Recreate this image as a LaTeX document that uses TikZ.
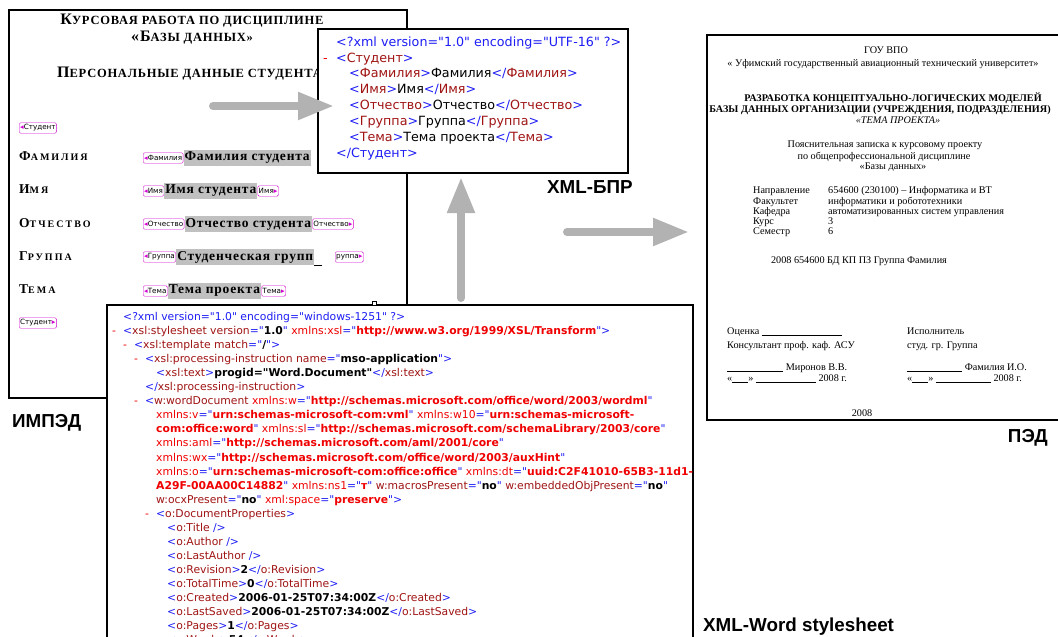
\documentclass[tikz,border=0pt]{standalone}
\usepackage{fontspec}
\setmainfont{Liberation Serif}
\newfontfamily\xmlfont{DejaVu Sans}
\newfontfamily\lblfont{Liberation Sans}
\usetikzlibrary{arrows.meta}
\definecolor{xblue}{RGB}{30,30,245}
\definecolor{xname}{RGB}{160,20,20}
\definecolor{xns}{RGB}{240,0,0}
\definecolor{fldgray}{RGB}{192,192,192}
\definecolor{tagc}{RGB}{210,0,210}
\definecolor{arrgray}{RGB}{178,178,178}
\newcommand\xb[1]{\textcolor{xblue}{#1}}
\newcommand\xn[1]{\textcolor{xname}{#1}}
\newcommand\xr[1]{\textcolor{xns}{#1}}
\newcommand\xrv[1]{\textcolor{xns}{\bfseries #1}}
\newcommand\xt[1]{\xb{<}\xn{#1}\xb{>}}
\newcommand\xc[1]{\xb{</}\xn{#1}\xb{>}}
\newcommand\xe[1]{\xb{<}\xn{#1}\ \xb{/>}}
\newcommand\tri[1]{\textcolor{tagc}{#1}}
\newcommand\capsc[2]{{\fontsize{16}{16}\selectfont #1}{\fontsize{12.5}{12.5}\selectfont #2}}
\newcommand\capsb[2]{{\fontsize{13.5}{14}\selectfont #1}{\fontsize{10}{11}\selectfont #2}}
\newcommand\ulin[1]{\rule[-1pt]{#1}{0.5pt}}
\begin{document}
\begin{tikzpicture}[x=1pt,y=-1pt,
  hd/.style={inner sep=0, font=\bfseries\addfontfeature{LetterSpace=6}},
  lab/.style={anchor=west, inner sep=0, font=\bfseries\addfontfeature{LetterSpace=20}},
  tag/.style={draw=tagc, rounded corners=1.5pt, inner xsep=1pt, inner ysep=0pt, minimum height=10.5pt, anchor=west, font=\xmlfont\fontsize{7.2}{8}\selectfont},
  fld/.style={fill=fldgray, inner xsep=1pt, inner ysep=2pt, anchor=west, font=\bfseries\fontsize{13.5}{14}\selectfont\addfontfeature{LetterSpace=6}},
  xm/.style={anchor=west, inner sep=0, text height=0.75em, text depth=0.2em, font=\xmlfont\fontsize{12.7}{13}\selectfont},
  xs/.style={anchor=west, inner sep=0, text height=0.75em, text depth=0.2em, font=\xmlfont\fontsize{10.8}{11}\selectfont},
  ped/.style={inner sep=0, text height=0.7em, text depth=0.2em, font=\fontsize{10.2}{11}\selectfont},
  pedb/.style={ped, font=\bfseries\fontsize{10.2}{11}\selectfont},
  lbl/.style={inner sep=0, font=\lblfont\bfseries\fontsize{18.8}{19}\selectfont},
  win/.style={draw, fill=white, line width=1.6pt},
  bigarr/.style={draw=arrgray, line width=8pt, line cap=round, -{Triangle[length=36pt,width=26pt]}}]
\clip (0,0) rectangle (1058,637);
\fill[white] (0,0) rectangle (1058,637);

\draw[win, line width=2pt] (9,10) rectangle (407,398);
\node[hd] (ttl1) at (192,21) {\capsc{К}{УРСОВАЯ РАБОТА ПО ДИСЦИПЛИНЕ}};
\node[hd] (ttl2) at (192,38) {\capsc{«Б}{АЗЫ ДАННЫХ»}};
\node[hd, anchor=west] (ttl3) at (57,74) {\capsc{П}{ЕРСОНАЛЬНЫЕ ДАННЫЕ СТУДЕНТА}};
\node[tag] (tg0) at (19,128) {\tri{◂}Студент};
\node[lab] (lab1) at (19,156) {\capsb{Ф}{АМИЛИЯ}};
\node[lab] (lab2) at (19,189) {\capsb{И}{МЯ}};
\node[lab] (lab3) at (19,223) {\capsb{О}{ТЧЕСТВО}};
\node[lab] (lab4) at (19,256) {\capsb{Г}{РУППА}};
\node[lab] (lab5) at (19,289) {\capsb{Т}{ЕМА}};
\node[tag] (tg1) at (143,158) {\tri{◂}Фамилия};
\node[fld] (fl1) at (tg1.east) {Фамилия студента};
\node[tag] (tg2) at (143,191) {\tri{◂}Имя};
\node[fld] (fl2) at (tg2.east) {Имя студента};
\node[tag] (te2) at (fl2.east) {Имя\tri{▸}};
\node[tag] (tg3) at (143,224) {\tri{◂}Отчество};
\node[fld] (fl3) at (tg3.east) {Отчество студента};
\node[tag] (te3) at (fl3.east) {Отчество\tri{▸}};
\node[tag] (tg4) at (143,257) {\tri{◂}Группа};
\node[fld] (fl4) at (tg4.east) {Студенческая групп};
\draw (fl4.south east) -- ++(8,0);
\node[tag] (te4) at (335,257) {руппа\tri{▸}};
\node[tag] (tg5) at (143,291) {\tri{◂}Тема};
\node[fld] (fl5) at (tg5.east) {Тема проекта};
\node[tag] (te5) at (fl5.east) {Тема\tri{▸}};
\node[tag] (te0) at (19,323) {Студент\tri{▸}};

\draw[win] (318,29) rectangle (628,173);
\node[xm] (b0) at (336,44) {\xb{<?xml version="1.0" encoding="UTF-16" ?>}};
\node[xm, text=xns] (bd) at (323,60) {-};
\node[xm] (b1) at (336,60) {\xt{Студент}};
\node[xm] (b2) at (349,75) {\xt{Фамилия}Фамилия\xc{Фамилия}};
\node[xm] (b3) at (349,91) {\xt{Имя}Имя\xc{Имя}};
\node[xm] (b4) at (349,107) {\xt{Отчество}Отчество\xc{Отчество}};
\node[xm] (b5) at (349,123) {\xt{Группа}Группа\xc{Группа}};
\node[xm] (b6) at (349,139) {\xt{Тема}Тема проекта\xc{Тема}};
\node[xm] (b7) at (336,155) {\xb{</Студент>}};

\draw[win] (107,305) rectangle (693,700);
\draw[fill=white, line width=0.5pt] (372,301) rectangle (376,305);
\node[xs] (s0) at (123,318) {\xb{<?xml version="1.0" encoding="windows-1251" ?>}};
\node[xs, text=xns] (d1) at (112,332) {-};
\node[xs] (s1) at (123,332) {\xb{<}\xn{xsl:stylesheet version}\xb{="}\textbf{1.0}\xb{"} \xr{xmlns:xsl}\xb{="}\xrv{http://www.w3.org/1999/XSL/Transform}\xb{">}};
\node[xs, text=xns] (d2) at (123,346) {-};
\node[xs] (s2) at (134,346) {\xb{<}\xn{xsl:template match}\xb{="}\textbf{/}\xb{">}};
\node[xs, text=xns] (d3) at (134,360) {-};
\node[xs] (s3) at (145,360) {\xb{<}\xn{xsl:processing-instruction name}\xb{="}\textbf{mso-application}\xb{">}};
\node[xs] (s4) at (156,374) {\xt{xsl:text}\textbf{progid="Word.Document"}\xc{xsl:text}};
\node[xs] (s5) at (145,388) {\xc{xsl:processing-instruction}};
\node[xs, text=xns] (d6) at (134,402) {-};
\node[xs] (s6) at (145,402) {\xb{<}\xn{w:wordDocument} \xr{xmlns:w}\xb{="}\xrv{http://schemas.microsoft.com/office/word/2003/wordml}\xb{"}};
\node[xs] (s7) at (156,416) {\xr{xmlns:v}\xb{="}\xrv{urn:schemas-microsoft-com:vml}\xb{"} \xr{xmlns:w10}\xb{="}\xrv{urn:schemas-microsoft-}};
\node[xs] (s8) at (156,430) {\xrv{com:office:word}\xb{"} \xr{xmlns:sl}\xb{="}\xrv{http://schemas.microsoft.com/schemaLibrary/2003/core}\xb{"}};
\node[xs] (s9) at (156,444) {\xr{xmlns:aml}\xb{="}\xrv{http://schemas.microsoft.com/aml/2001/core}\xb{"}};
\node[xs] (s10) at (156,459) {\xr{xmlns:wx}\xb{="}\xrv{http://schemas.microsoft.com/office/word/2003/auxHint}\xb{"}};
\node[xs] (s11) at (156,473) {\xr{xmlns:o}\xb{="}\xrv{urn:schemas-microsoft-com:office:office}\xb{"} \xr{xmlns:dt}\xb{="}\xrv{uuid:C2F41010-65B3-11d1-}};
\node[xs] (s12) at (156,487) {\xrv{A29F-00AA00C14882}\xb{"} \xr{xmlns:ns1}\xb{="}\xrv{т}\xb{"} \xn{w:macrosPresent}\xb{="}\textbf{no}\xb{"} \xn{w:embeddedObjPresent}\xb{="}\textbf{no}\xb{"}};
\node[xs] (s13) at (156,501) {\xn{w:ocxPresent}\xb{="}\textbf{no}\xb{"} \xr{xml:space}\xb{="}\xrv{preserve}\xb{">}};
\node[xs, text=xns] (d14) at (145,515) {-};
\node[xs] (s14) at (156,515) {\xt{o:DocumentProperties}};
\node[xs] (s15) at (167,529) {\xe{o:Title}};
\node[xs] (s16) at (167,543) {\xe{o:Author}};
\node[xs] (s17) at (167,557) {\xe{o:LastAuthor}};
\node[xs] (s18) at (167,571) {\xt{o:Revision}\textbf{2}\xc{o:Revision}};
\node[xs] (s19) at (167,585) {\xt{o:TotalTime}\textbf{0}\xc{o:TotalTime}};
\node[xs] (s20) at (167,599) {\xt{o:Created}\textbf{2006-01-25T07:34:00Z}\xc{o:Created}};
\node[xs] (s21) at (167,613) {\xt{o:LastSaved}\textbf{2006-01-25T07:34:00Z}\xc{o:LastSaved}};
\node[xs] (s22) at (167,627) {\xt{o:Pages}\textbf{1}\xc{o:Pages}};
\node[xs] (s23) at (167,641) {\xt{o:Words}\textbf{54}\xc{o:Words}};

\draw[win, line width=1.5pt] (707,35) rectangle (1080,420);
\node[ped] (p1) at (886,51) {ГОУ ВПО};
\node[ped] (p2) at (883,64) {« Уфимский государственный авиационный технический университет»};
\node[pedb] (p3) at (893,99) {РАЗРАБОТКА КОНЦЕПТУАЛЬНО-ЛОГИЧЕСКИХ МОДЕЛЕЙ};
\node[pedb] (p4) at (880,110) {БАЗЫ ДАННЫХ ОРГАНИЗАЦИИ (УЧРЕЖДЕНИЯ, ПОДРАЗДЕЛЕНИЯ)};
\node[ped, font=\itshape\fontsize{10.2}{11}\selectfont] (p5) at (898,121) {«ТЕМА ПРОЕКТА»};
\node[ped] (p6) at (885,145) {Пояснительная записка к курсовому проекту};
\node[ped] (p7) at (884,157) {по общепрофессиональной дисциплине};
\node[ped] (p8) at (893,167) {«Базы данных»};
\node[ped, anchor=west] (k1) at (753,191) {Направление};
\node[ped, anchor=west] (k2) at (753,202) {Факультет};
\node[ped, anchor=west] (k3) at (753,212) {Кафедра};
\node[ped, anchor=west] (k4) at (753,222) {Курс};
\node[ped, anchor=west] (k5) at (753,232) {Семестр};
\node[ped, anchor=west] (v1) at (828,191) {654600 (230100) – Информатика и ВТ};
\node[ped, anchor=west] (v2) at (828,202) {информатики и робототехники};
\node[ped, anchor=west] (v3) at (828,212) {автоматизированных систем управления};
\node[ped, anchor=west] (v4) at (828,222) {3};
\node[ped, anchor=west] (v5) at (828,232) {6};
\node[ped] (p9) at (859,261) {2008 654600 БД КП ПЗ Группа Фамилия};
\node[ped, anchor=west] (g1) at (727,332) {Оценка \ulin{80pt}};
\node[ped, anchor=west] (g2) at (727,346) {Консультант проф. каф. АСУ};
\node[ped, anchor=west] (g3) at (727,368) {\ulin{56pt} Миронов В.В.};
\node[ped, anchor=west] (g4) at (727,379) {«\ulin{16pt}» \ulin{60pt} 2008 г.};
\node[ped, anchor=west] (h1) at (907,332) {Исполнитель};
\node[ped, anchor=west] (h2) at (907,346) {студ. гр. Группа};
\node[ped, anchor=west] (h3) at (907,368) {\ulin{55pt} Фамилия И.О.};
\node[ped, anchor=west] (h4) at (907,379) {«\ulin{16pt}» \ulin{55pt} 2008 г.};
\node[ped] (p10) at (862,414) {2008};

\coordinate (a1s) at (213,106);
\coordinate (a1e) at (334,106);
\coordinate (a2s) at (461,298);
\coordinate (a2e) at (461,177);
\coordinate (a3s) at (567,232);
\coordinate (a3e) at (689,232);
\draw[bigarr] (a1s) -- (a1e);
\draw[bigarr] (a2s) -- (a2e);
\draw[bigarr] (a3s) -- (a3e);

\node[lbl, anchor=west] (lbpr) at (547,187) {XML-БПР};
\node[lbl, anchor=west] (limp) at (12,423) {ИМПЭД};
\node[lbl, anchor=east] (lped) at (1048,438) {ПЭД};
\node[lbl, anchor=west] (lxw) at (703,627) {XML-Word stylesheet};
\end{tikzpicture}
\end{document}
